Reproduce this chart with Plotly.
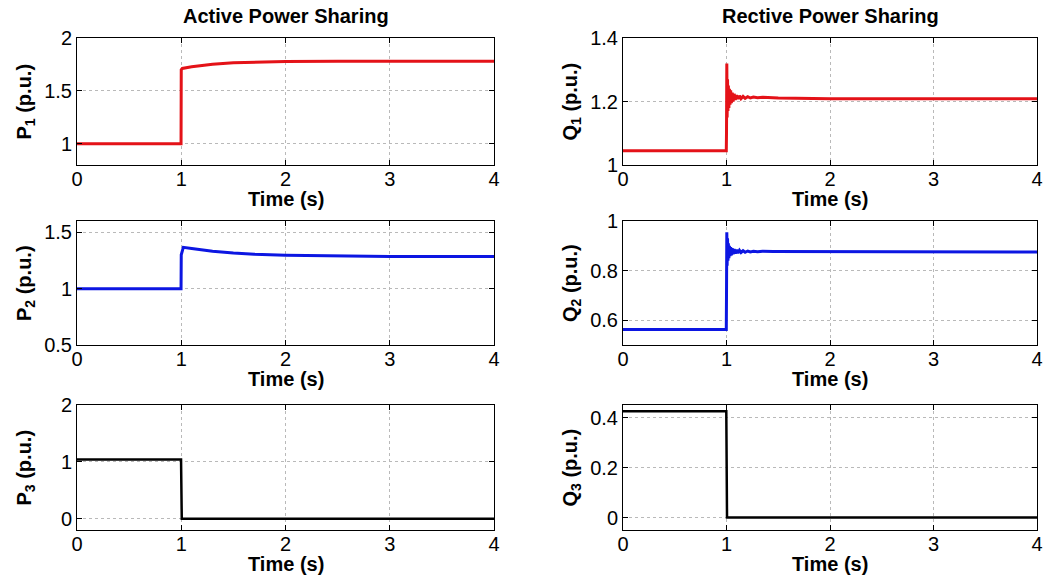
import plotly.graph_objects as go
from plotly.subplots import make_subplots

# ---------------- data ----------------
t_p1 = [0.0, 0.998, 1.0, 1.01, 1.1, 1.2, 1.3, 1.5, 1.7, 2.0, 2.5, 3.0, 4.0]
p1 = [1.0, 1.0, 1.70, 1.712, 1.728, 1.742, 1.752, 1.765, 1.773, 1.779, 1.781, 1.781, 1.781]

t_p2 = [0.0, 0.998, 1.0, 1.02, 1.1, 1.2, 1.3, 1.5, 1.7, 2.0, 2.5, 3.0, 4.0]
p2 = [1.0, 1.0, 1.30, 1.366, 1.356, 1.343, 1.332, 1.316, 1.305, 1.296, 1.289, 1.286, 1.285]

t_p3 = [0.0, 0.998, 1.005, 4.0]
p3 = [1.04, 1.04, 0.0, 0.0]

t_q1 = [0.0, 0.998, 1.000, 1.003, 1.006, 1.010, 1.014, 1.018, 1.023, 1.028, 1.034,
        1.040, 1.047, 1.055, 1.064, 1.074, 1.085, 1.097, 1.110, 1.125, 1.140,
        1.160, 1.180, 1.205, 1.230, 1.260, 1.300, 1.350, 1.500, 2.0, 3.0, 4.0]
q1 = [1.045, 1.045, 1.10, 1.32, 1.15, 1.27, 1.17, 1.25, 1.18, 1.24, 1.19,
      1.235, 1.195, 1.228, 1.200, 1.224, 1.205, 1.220, 1.208, 1.218, 1.209,
      1.216, 1.210, 1.215, 1.211, 1.214, 1.212, 1.213, 1.211, 1.209, 1.209, 1.209]

t_q2 = [0.0, 0.998, 1.000, 1.003, 1.006, 1.010, 1.014, 1.018, 1.023, 1.028, 1.034,
        1.040, 1.047, 1.055, 1.064, 1.074, 1.085, 1.097, 1.110, 1.125, 1.140,
        1.160, 1.180, 1.205, 1.230, 1.260, 1.300, 1.350, 1.450, 2.0, 4.0]
q2 = [0.563, 0.563, 0.70, 0.955, 0.82, 0.93, 0.84, 0.91, 0.85, 0.90, 0.858,
      0.895, 0.862, 0.890, 0.866, 0.887, 0.869, 0.884, 0.871, 0.882, 0.873,
      0.880, 0.874, 0.879, 0.875, 0.878, 0.876, 0.878, 0.877, 0.876, 0.875]

t_q3 = [0.0, 0.998, 1.005, 4.0]
q3 = [0.425, 0.425, 0.0, 0.0]

x_ticks = [0, 1, 2, 3, 4]
y_ticks = {
    "P1": [1, 1.5, 2],
    "P2": [0.5, 1, 1.5],
    "P3": [0, 1, 2],
    "Q1": [1, 1.2, 1.4],
    "Q2": [0.6, 0.8, 1],
    "Q3": [0, 0.2, 0.4],
}
y_ranges = {
    "P1": [0.8, 2.0],
    "P2": [0.5, 1.6],
    "P3": [-0.2, 2.0],
    "Q1": [1.0, 1.4],
    "Q2": [0.5, 1.0],
    "Q3": [-0.05, 0.45],
}
y_titles = {
    "P1": "P<sub>1</sub> (p.u.)",
    "P2": "P<sub>2</sub> (p.u.)",
    "P3": "P<sub>3</sub> (p.u.)",
    "Q1": "Q<sub>1</sub> (p.u.)",
    "Q2": "Q<sub>2</sub> (p.u.)",
    "Q3": "Q<sub>3</sub> (p.u.)",
}
col_titles = ["Active Power Sharing", "Rective Power Sharing"]
x_title = "Time (s)"

RED = "rgb(228,18,24)"
BLUE = "rgb(12,22,226)"
BLACK = "rgb(0,0,0)"
FONT = "Liberation Sans, Arial, Helvetica, sans-serif"

W, H = 1046, 579

fig = make_subplots(rows=3, cols=2)

series = [
    ("P1", 1, 1, t_p1, p1, RED, 3),
    ("P2", 2, 1, t_p2, p2, BLUE, 3),
    ("P3", 3, 1, t_p3, p3, BLACK, 2.5),
    ("Q1", 1, 2, t_q1, q1, RED, 3),
    ("Q2", 2, 2, t_q2, q2, BLUE, 3),
    ("Q3", 3, 2, t_q3, q3, BLACK, 2.5),
]

# layout geometry (pixels)
x_px = {1: (77, 494), 2: (623, 1037)}
y_px = {1: (38, 165), 2: (221, 345), 3: (405, 530)}

for name, r, c, tx, vy, col, lw in series:
    fig.add_trace(go.Scatter(x=tx, y=vy, mode="lines", name=name,
                             line=dict(color=col, width=lw), showlegend=False),
                  row=r, col=c)
    x0, x1 = x_px[c]
    y0, y1 = y_px[r]
    fig.update_xaxes(domain=[x0 / W, x1 / W], range=[0, 4], tickvals=x_ticks,
                     row=r, col=c)
    fig.update_yaxes(domain=[1 - y1 / H, 1 - y0 / H], range=y_ranges[name],
                     tickvals=y_ticks[name], row=r, col=c)
    # y-axis title
    fig.add_annotation(text=y_titles[name], xref="paper", yref="paper",
                       x=(x0 - 52) / W, y=1 - (y0 + y1) / 2 / H,
                       textangle=-90, showarrow=False,
                       xanchor="center", yanchor="middle",
                       font=dict(family=FONT, size=20, color="black", weight="bold"))
    # x-axis title
    fig.add_annotation(text=x_title, xref="paper", yref="paper",
                       x=(x0 + x1) / 2 / W, y=1 - (y1 + 34) / H,
                       showarrow=False, xanchor="center", yanchor="middle",
                       font=dict(family=FONT, size=20, color="black", weight="bold"))

for i, ttl in enumerate(col_titles):
    x0, x1 = x_px[i + 1]
    fig.add_annotation(text=ttl, xref="paper", yref="paper",
                       x=(x0 + x1) / 2 / W, y=1 - 15.5 / H,
                       showarrow=False, xanchor="center", yanchor="middle",
                       font=dict(family=FONT, size=20, color="black", weight="bold"))

axis_style = dict(
    showline=True, linecolor="black", linewidth=1, mirror="ticks",
    ticks="inside", ticklen=5, tickcolor="black", tickwidth=1,
    showgrid=True, gridcolor="rgb(185,185,185)", gridwidth=1, griddash="dot",
    zeroline=False, automargin=False, ticklabeloverflow="allow",
    tickfont=dict(family=FONT, size=20, color="black"),
)
fig.update_xaxes(**axis_style)
fig.update_yaxes(**axis_style)
fig.update_xaxes(ticklabelstandoff=-4)

fig.update_layout(
    width=W, height=H,
    margin=dict(l=0, r=0, t=0, b=0, autoexpand=False),
    paper_bgcolor="white", plot_bgcolor="white",
    font=dict(family=FONT, color="black"),
)

fig.write_html("out.html")
